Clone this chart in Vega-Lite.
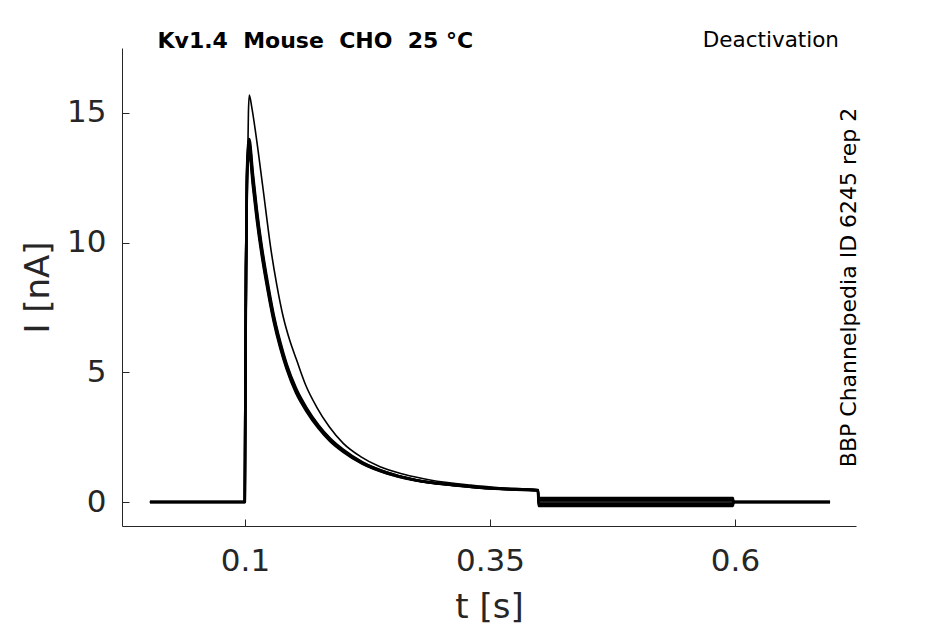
{
  "$schema": "https://vega.github.io/schema/vega-lite/v6.json",
  "description": "Kv1.4 deactivation current traces",
  "autosize": "none",
  "width": 734,
  "height": 478,
  "padding": {"left": 122, "top": 48, "right": 89, "bottom": 98},
  "background": "white",
  "title": {
    "text": "Deactivation",
    "anchor": "end",
    "frame": "group",
    "font": "DejaVu Sans",
    "fontSize": 21.5,
    "fontWeight": "normal",
    "color": "#000000",
    "baseline": "alphabetic",
    "offset": -39,
    "dx": -17
  },
  "datasets": {
    "bundle": [
      {"t": 0.003, "B1": 0, "B2": 0, "B3": 0, "B4": 0},
      {"t": 0.0998, "B1": 0, "B2": 0, "B3": 0, "B4": 0},
      {"t": 0.1002, "B1": 3, "B2": 3, "B3": 3, "B4": 3},
      {"t": 0.101, "B1": 9, "B2": 9, "B3": 9, "B4": 9},
      {"t": 0.102, "B1": 12.75, "B2": 12.59, "B3": 12.41, "B4": 12.25},
      {"t": 0.1035, "B1": 13.87, "B2": 13.7, "B3": 13.5, "B4": 13.33},
      {"t": 0.1044, "B1": 13.99, "B2": 13.82, "B3": 13.62, "B4": 13.45},
      {"t": 0.108, "B1": 12.7, "B2": 12.54, "B3": 12.36, "B4": 12.2},
      {"t": 0.112, "B1": 11.32, "B2": 11.18, "B3": 11.02, "B4": 10.88},
      {"t": 0.117, "B1": 9.9, "B2": 9.78, "B3": 9.64, "B4": 9.52},
      {"t": 0.122, "B1": 8.73, "B2": 8.62, "B3": 8.5, "B4": 8.39},
      {"t": 0.129, "B1": 7.28, "B2": 7.19, "B3": 7.09, "B4": 7.0},
      {"t": 0.136, "B1": 6.17, "B2": 6.09, "B3": 6.01, "B4": 5.93},
      {"t": 0.1425, "B1": 5.32, "B2": 5.26, "B3": 5.18, "B4": 5.12},
      {"t": 0.152, "B1": 4.39, "B2": 4.33, "B3": 4.27, "B4": 4.21},
      {"t": 0.163, "B1": 3.62, "B2": 3.57, "B3": 3.53, "B4": 3.48},
      {"t": 0.175, "B1": 2.96, "B2": 2.92, "B3": 2.88, "B4": 2.84},
      {"t": 0.187, "B1": 2.44, "B2": 2.41, "B3": 2.37, "B4": 2.34},
      {"t": 0.2, "B1": 2.02, "B2": 1.99, "B3": 1.97, "B4": 1.94},
      {"t": 0.22, "B1": 1.53, "B2": 1.51, "B3": 1.49, "B4": 1.47},
      {"t": 0.245, "B1": 1.14, "B2": 1.13, "B3": 1.11, "B4": 1.1},
      {"t": 0.272, "B1": 0.87, "B2": 0.86, "B3": 0.86, "B4": 0.85},
      {"t": 0.3, "B1": 0.71, "B2": 0.7, "B3": 0.7, "B4": 0.69},
      {"t": 0.33, "B1": 0.6, "B2": 0.59, "B3": 0.59, "B4": 0.58},
      {"t": 0.36, "B1": 0.52, "B2": 0.51, "B3": 0.51, "B4": 0.5},
      {"t": 0.399, "B1": 0.46, "B2": 0.45, "B3": 0.45, "B4": 0.44},
      {"t": 0.3995, "B1": 0.15, "B2": 0.07, "B3": -0.07, "B4": -0.15},
      {"t": 0.598, "B1": 0.15, "B2": 0.07, "B3": -0.07, "B4": -0.15},
      {"t": 0.5985, "B1": 0, "B2": 0, "B3": 0, "B4": 0},
      {"t": 0.697, "B1": 0, "B2": 0, "B3": 0, "B4": 0}
    ],
    "thin": [
      {"t": 0.003, "I": 0},
      {"t": 0.0998, "I": 0},
      {"t": 0.1005, "I": 3},
      {"t": 0.1015, "I": 8},
      {"t": 0.1025, "I": 12.5},
      {"t": 0.1035, "I": 15},
      {"t": 0.1044, "I": 15.69},
      {"t": 0.107, "I": 15.2},
      {"t": 0.111, "I": 14.2},
      {"t": 0.118, "I": 12.2},
      {"t": 0.127, "I": 9.6},
      {"t": 0.1323, "I": 8.4},
      {"t": 0.139, "I": 7.14},
      {"t": 0.1455, "I": 6.25},
      {"t": 0.1527, "I": 5.47},
      {"t": 0.162, "I": 4.5},
      {"t": 0.173, "I": 3.67},
      {"t": 0.186, "I": 2.9},
      {"t": 0.2003, "I": 2.26},
      {"t": 0.218, "I": 1.75},
      {"t": 0.2378, "I": 1.36},
      {"t": 0.262, "I": 1.07},
      {"t": 0.2888, "I": 0.85},
      {"t": 0.33, "I": 0.65},
      {"t": 0.36, "I": 0.55},
      {"t": 0.399, "I": 0.46},
      {"t": 0.3995, "I": 0.0},
      {"t": 0.598, "I": 0.0},
      {"t": 0.5985, "I": 0},
      {"t": 0.697, "I": 0}
    ]
  },
  "layer": [
    {
      "data": {"name": "bundle"},
      "transform": [{"fold": ["B1", "B2", "B3", "B4"], "as": ["trace", "I"]}],
      "mark": {"type": "line", "color": "#000000", "strokeWidth": 2.5, "strokeJoin": "round", "interpolate": "monotone"},
      "encoding": {
        "x": {
          "field": "t",
          "type": "quantitative",
          "scale": {"domain": [-0.0255, 0.7235], "nice": false, "zero": false},
          "axis": {
            "orient": "bottom",
            "values": [0.1, 0.35, 0.6],
            "format": ".2~f",
            "tickSize": -7,
            "labelPadding": 27,
            "title": "t [s]",
            "titleY": 91,
            "titleBaseline": "alphabetic"
          }
        },
        "y": {
          "field": "I",
          "type": "quantitative",
          "scale": {"domain": [-0.925, 17.5], "nice": false, "zero": false},
          "axis": {
            "orient": "left",
            "values": [0, 5, 10, 15],
            "tickSize": -7,
            "labelPadding": 23,
            "title": "I [nA]",
            "titleX": -74,
            "titleY": 239,
            "titleAngle": 270,
            "titleAlign": "center",
            "titleBaseline": "alphabetic"
          }
        },
        "detail": {"field": "trace", "type": "nominal"}
      }
    },
    {
      "data": {"name": "thin"},
      "mark": {"type": "line", "color": "#000000", "strokeWidth": 1.6, "strokeJoin": "round", "interpolate": "monotone"},
      "encoding": {
        "x": {
          "field": "t",
          "type": "quantitative",
          "scale": {"domain": [-0.0255, 0.7235], "nice": false, "zero": false},
          "axis": {
            "orient": "top",
            "domain": false,
            "ticks": false,
            "labels": false,
            "title": "Kv1.4\u00a0 Mouse\u00a0 CHO\u00a0 25 °C",
            "titleFontSize": 22,
            "titleFontWeight": "bold",
            "titleColor": "#000000",
            "titleX": 35,
            "titleY": -1,
            "titleAlign": "left",
            "titleAnchor": "start",
            "titleBaseline": "alphabetic"
          }
        },
        "y": {
          "field": "I",
          "type": "quantitative",
          "scale": {"domain": [-0.925, 17.5], "nice": false, "zero": false},
          "axis": {
            "orient": "right",
            "domain": false,
            "ticks": false,
            "labels": false,
            "title": "BBP Channelpedia ID 6245 rep 2",
            "titleFontSize": 22,
            "titleColor": "#000000",
            "titleX": -1,
            "titleY": 239,
            "titleAngle": 270,
            "titleAlign": "center",
            "titleBaseline": "alphabetic"
          }
        }
      }
    }
  ],
  "resolve": {"axis": {"x": "independent", "y": "independent"}},
  "config": {
    "view": {"stroke": null},
    "axis": {
      "grid": false,
      "domainColor": "#262626",
      "domainWidth": 1,
      "tickColor": "#262626",
      "tickWidth": 1,
      "labelColor": "#262626",
      "titleColor": "#262626",
      "labelFont": "DejaVu Sans",
      "titleFont": "DejaVu Sans",
      "labelFontSize": 31,
      "titleFontSize": 34,
      "titleFontWeight": "normal"
    }
  }
}
